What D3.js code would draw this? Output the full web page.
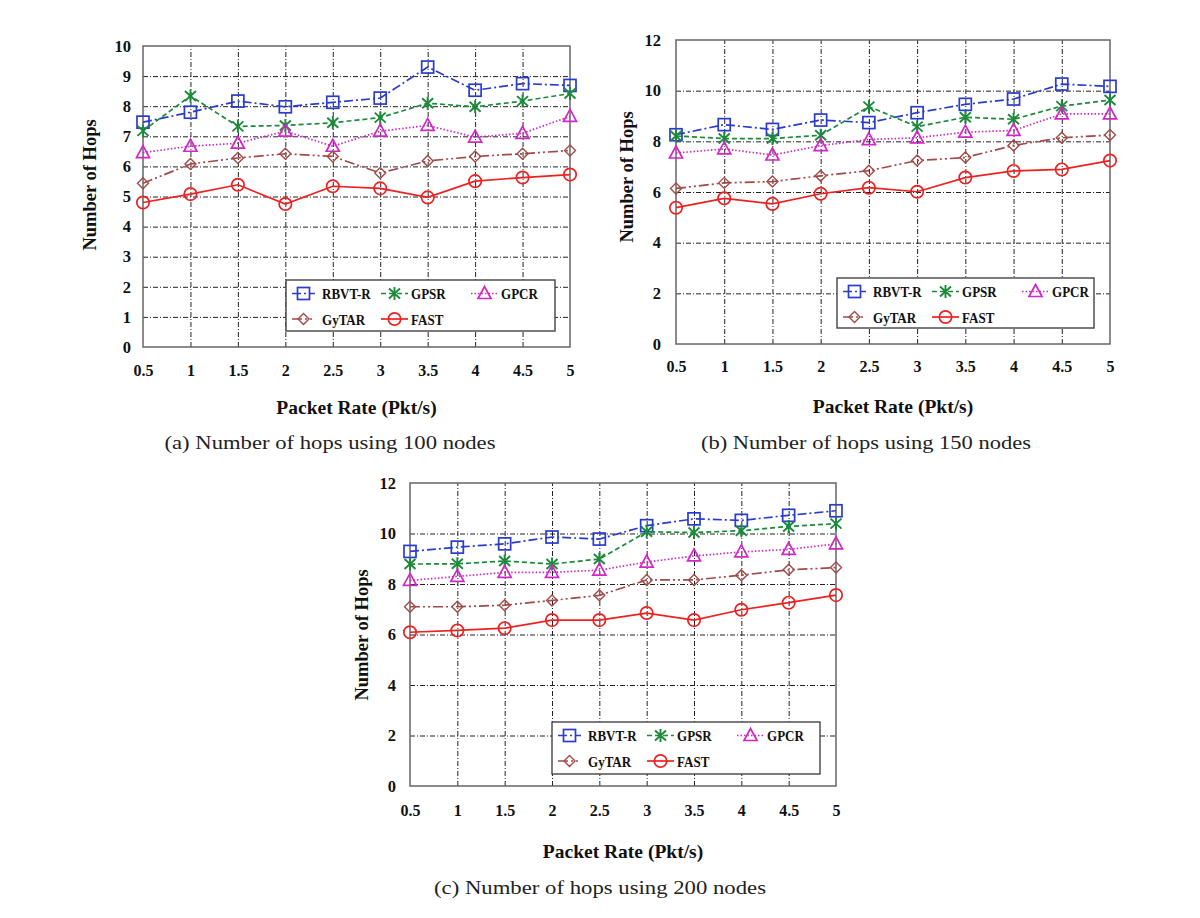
<!DOCTYPE html>
<html><head><meta charset="utf-8">
<script src="https://cdn.jsdelivr.net/npm/d3@7"></script>
<style>body{margin:0;background:#fff}svg{display:block}</style>
</head><body>
<svg id="c" width="1200" height="918"></svg>
<script>
const packetRates = [0.5,1,1.5,2,2.5,3,3.5,4,4.5,5];
const xTickLabels = ["0.5","1","1.5","2","2.5","3","3.5","4","4.5","5"];
const seriesNames = ["RBVT-R","GPSR","GPCR","GyTAR","FAST"];

// 100 nodes
const rbvt100  = [7.47,7.80,8.17,7.98,8.13,8.27,9.30,8.53,8.75,8.69];
const gpsr100  = [7.18,8.34,7.33,7.36,7.45,7.62,8.10,7.98,8.17,8.42];
const gpcr100  = [6.46,6.67,6.77,7.17,6.67,7.17,7.36,6.97,7.10,7.66];
const gytar100 = [5.44,6.08,6.28,6.42,6.33,5.78,6.18,6.33,6.42,6.53];
const fast100  = [4.80,5.08,5.39,4.75,5.34,5.27,4.97,5.51,5.63,5.73];
// 150 nodes
const rbvt150  = [8.26,8.66,8.47,8.84,8.74,9.13,9.46,9.67,10.26,10.17];
const gpsr150  = [8.21,8.11,8.11,8.24,9.37,8.58,8.95,8.87,9.39,9.63];
const gpcr150  = [7.54,7.70,7.46,7.83,8.07,8.14,8.36,8.43,9.08,9.08];
const gytar150 = [6.14,6.36,6.41,6.64,6.84,7.24,7.36,7.84,8.14,8.25];
const fast150  = [5.38,5.75,5.53,5.93,6.17,6.01,6.57,6.83,6.89,7.24];
// 200 nodes
const rbvt200  = [9.29,9.46,9.59,9.86,9.78,10.31,10.58,10.52,10.72,10.90];
const gpsr200  = [8.79,8.80,8.91,8.79,8.99,10.07,10.04,10.11,10.28,10.39];
const gpcr200  = [8.14,8.30,8.46,8.46,8.55,8.87,9.11,9.27,9.37,9.59];
const gytar200 = [7.10,7.10,7.16,7.35,7.55,8.16,8.16,8.35,8.56,8.65];
const fast200  = [6.09,6.16,6.25,6.57,6.57,6.85,6.57,6.98,7.26,7.56];

const yTicks10 = [0,1,2,3,4,5,6,7,8,9,10];
const yTicks12 = [0,2,4,6,8,10,12];
const captions = ["(a) Number of hops using 100 nodes","(b) Number of hops using 150 nodes","(c) Number of hops using 200 nodes"];
const xTitle = "Packet Rate (Pkt/s)";
const yTitle = "Number of Hops";

const styles = [
  {color:"#2a3bd0", dash:"9,3,2,3", marker:"square"},
  {color:"#1c8a3a", dash:"5,3", marker:"star"},
  {color:"#d126c8", dash:"1.5,2", marker:"triangle"},
  {color:"#a24a48", dash:"10,3,2,3,2,3", marker:"diamond"},
  {color:"#ee2020", dash:null, marker:"circle"}
];

const svg = d3.select("#c");
const serif = "'Liberation Serif','Times New Roman',serif";

function drawMarker(g, type, cx, cy, color){
  const s = g.append("g").attr("transform",`translate(${cx},${cy})`)
    .attr("fill","none").attr("stroke",color).attr("stroke-width",1.7);
  if(type==="square") s.append("rect").attr("x",-6).attr("y",-6).attr("width",12).attr("height",12);
  else if(type==="circle") s.append("circle").attr("r",6.2);
  else if(type==="triangle") s.append("path").attr("d","M0,-7L6.5,5L-6.5,5Z");
  else if(type==="diamond") s.append("path").attr("d","M0,-5.5L5.5,0L0,5.5L-5.5,0Z").attr("stroke-width",1.4);
  else if(type==="star") s.append("path").attr("d","M0,-6.5L0,6.5M-5.5,-5L5.5,5M-5.5,5L5.5,-5").attr("stroke-width",1.9);
}

function panel(p){
  const g = svg.append("g");
  const x = d3.scaleLinear().domain([0.5,5]).range([p.left,p.right]);
  const y = d3.scaleLinear().domain([0,p.ymax]).range([p.bottom,p.top]);
  const W = p.right-p.left, H = p.bottom-p.top;

  const gridDash = "5,2,1,2";
  g.append("g").attr("transform",`translate(0,${p.bottom})`)
    .call(d3.axisBottom(x).tickValues(packetRates.slice(1,-1)).tickSize(-H).tickFormat(""))
    .call(a=>a.select(".domain").remove())
    .call(a=>a.selectAll("line").attr("stroke","#222").attr("stroke-width",1).attr("stroke-dasharray",gridDash));
  g.append("g").attr("transform",`translate(${p.left},0)`)
    .call(d3.axisLeft(y).tickValues(p.yticks.slice(1,-1)).tickSize(-W).tickFormat(""))
    .call(a=>a.select(".domain").remove())
    .call(a=>a.selectAll("line").attr("stroke","#222").attr("stroke-width",1).attr("stroke-dasharray",gridDash));

  g.append("rect").attr("x",p.left).attr("y",p.top).attr("width",W).attr("height",H)
    .attr("fill","none").attr("stroke","#666").attr("stroke-width",1.5);

  g.append("g").attr("transform",`translate(0,${p.bottom})`)
    .call(d3.axisBottom(x).tickValues(packetRates).tickSize(0).tickPadding(p.xpad).tickFormat((d,i)=>xTickLabels[i]))
    .call(a=>a.select(".domain").remove())
    .call(a=>a.selectAll("text").attr("font-family",serif).attr("font-weight","bold").attr("font-size",16).attr("fill","#111"));
  g.append("g").attr("transform",`translate(${p.left},0)`)
    .call(d3.axisLeft(y).tickValues(p.yticks).tickSize(0).tickPadding(p.ypad).tickFormat(d3.format("d")))
    .call(a=>a.select(".domain").remove())
    .call(a=>a.selectAll("text").attr("font-family",serif).attr("font-weight","bold").attr("font-size",16.5).attr("fill","#111"));

  g.append("text").attr("x",(p.left+p.right)/2).attr("y",p.xTitleY).attr("text-anchor","middle")
    .attr("font-family",serif).attr("font-weight","bold").attr("font-size",19.5).attr("fill","#111").text(xTitle);
  g.append("text").attr("transform",`translate(${p.yTitleX},${p.yTitleCy}) rotate(-90)`).attr("text-anchor","middle")
    .attr("font-family",serif).attr("font-weight","bold").attr("font-size",18.5).attr("fill","#111").text(yTitle);
  g.append("text").attr("x",p.capX).attr("y",p.capY).attr("text-anchor","middle")
    .attr("font-family","'Liberation Serif',serif").attr("font-size",18).attr("fill","#222")
    .attr("textLength",p.capW).attr("lengthAdjust","spacingAndGlyphs").text(p.caption);

  const line = d3.line().x((d,i)=>x(packetRates[i])).y(d=>y(d));
  p.series.forEach((vals,si)=>{
    const st = styles[si];
    g.append("path").datum(vals).attr("d",line).attr("fill","none").attr("stroke",st.color)
      .attr("stroke-width",1.7).attr("stroke-dasharray",st.dash);
    vals.forEach((v,i)=>drawMarker(g,st.marker,x(packetRates[i]),y(v),st.color));
  });

  const L = p.legend;
  g.append("rect").attr("x",L.x).attr("y",L.y).attr("width",L.w).attr("height",L.h)
    .attr("fill","#fff").attr("stroke","#444").attr("stroke-width",1.4);
  const cols = [[6,29,36],[95,122,125],[185,212,215]];
  const pos = [[0,0],[1,0],[2,0],[0,1],[1,1]];
  seriesNames.forEach((name,si)=>{
    const st = styles[si];
    const c = cols[pos[si][0]];
    const ry = L.y + (pos[si][1]===0 ? 13.5 : 39);
    g.append("line").attr("x1",L.x+c[0]).attr("x2",L.x+c[1]).attr("y1",ry).attr("y2",ry)
      .attr("stroke",st.color).attr("stroke-width",1.7).attr("stroke-dasharray",st.dash);
    drawMarker(g,st.marker,L.x+(c[0]+c[1])/2,ry,st.color);
    const t = g.append("text").attr("x",L.x+c[2]).attr("y",ry+5.5).attr("font-family",serif).attr("font-weight","bold")
      .attr("font-size",15.5).attr("fill","#111").text(name);
    const w = t.node().getComputedTextLength();
    t.attr("textLength",w*0.84).attr("lengthAdjust","spacingAndGlyphs");
  });
}

panel({left:143,right:570,top:46,bottom:347,ymax:10,yticks:yTicks10,xpad:18,ypad:12,
  xTitleY:414,yTitleX:96,yTitleCy:185,capX:330,capY:449,capW:331,caption:captions[0],
  series:[rbvt100,gpsr100,gpcr100,gytar100,fast100],
  legend:{x:286,y:280,w:269,h:51}});
panel({left:676,right:1110,top:40,bottom:344,ymax:12,yticks:yTicks12,xpad:17,ypad:15,
  xTitleY:413,yTitleX:633,yTitleCy:177,capX:866,capY:449,capW:330,caption:captions[1],
  series:[rbvt150,gpsr150,gpcr150,gytar150,fast150],
  legend:{x:837,y:278,w:257,h:50}});
panel({left:410,right:836,top:483,bottom:786,ymax:12,yticks:yTicks12,xpad:19,ypad:14,
  xTitleY:858,yTitleX:368,yTitleCy:635,capX:600,capY:894,capW:332,caption:captions[2],
  series:[rbvt200,gpsr200,gpcr200,gytar200,fast200],
  legend:{x:552,y:722,w:268,h:52}});
</script>
</body></html>
